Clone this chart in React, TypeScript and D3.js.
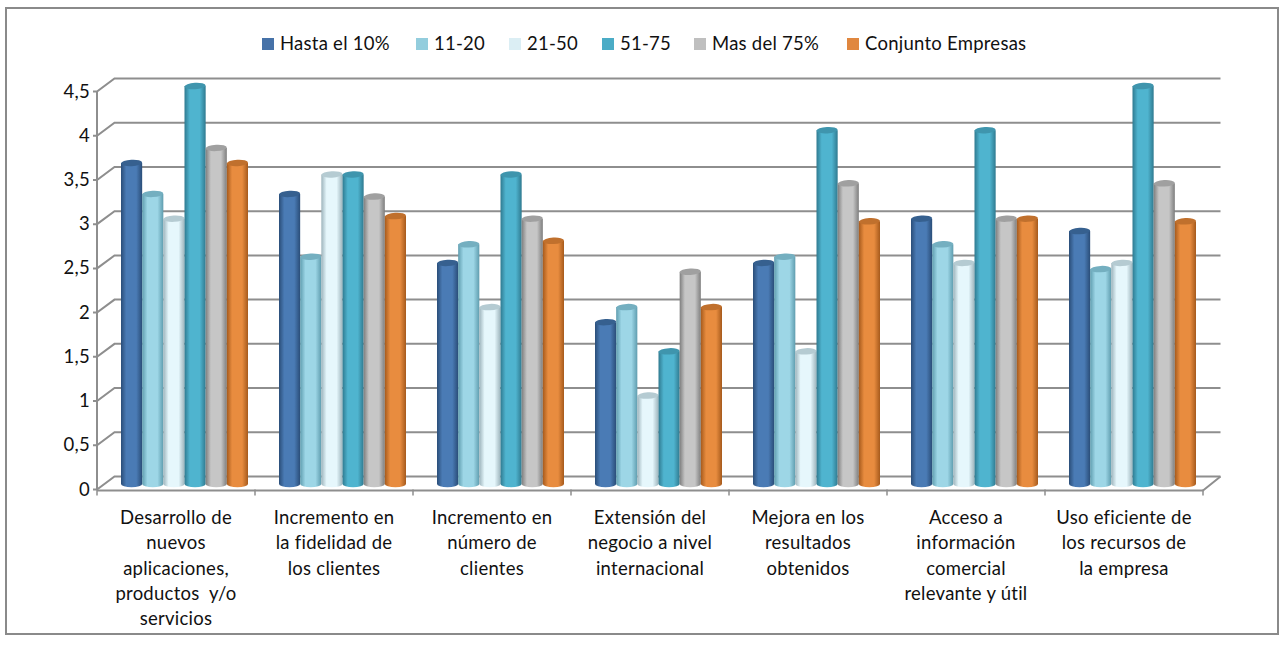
import React from "react";
import * as d3 from "d3";

const categories = [
  ["Desarrollo de", "nuevos", "aplicaciones,", "productos  y/o", "servicios"],
  ["Incremento en", "la fidelidad de", "los clientes"],
  ["Incremento en", "número de", "clientes"],
  ["Extensión del", "negocio a nivel", "internacional"],
  ["Mejora en los", "resultados", "obtenidos"],
  ["Acceso a", "información", "comercial", "relevante y útil"],
  ["Uso eficiente de", "los recursos de", "la empresa"],
];
const seriesNames = ["Hasta el 10%", "11-20", "21-50", "51-75", "Mas del 75%", "Conjunto Empresas"];
const hasta = [3.63, 3.28, 2.5, 1.83, 2.5, 3.0, 2.86];
const s1120 = [3.28, 2.57, 2.71, 2.0, 2.57, 2.71, 2.43];
const s2150 = [3.0, 3.5, 2.0, 1.0, 1.5, 2.5, 2.5];
const s5175 = [4.5, 3.5, 3.5, 1.5, 4.0, 4.0, 4.5];
const mas75 = [3.8, 3.25, 3.0, 2.4, 3.4, 3.0, 3.4];
const conjunto = [3.63, 3.03, 2.75, 2.0, 2.97, 3.0, 2.97];
const seriesValues = [hasta, s1120, s2150, s5175, mas75, conjunto];
const ticks = [0, 0.5, 1, 1.5, 2, 2.5, 3, 3.5, 4, 4.5];
const legendColors = ["#4672A8", "#93CDDD", "#DBEEF4", "#4BACC6", "#BFBFBF", "#E0873F"];
const edge = ["#2A4D78", "#5F9DAF", "#9DB4BC", "#2F7A90", "#7E7E7E", "#A65A1C"];
const mid = ["#4A7BB5", "#9DD6E6", "#E6F7FC", "#4FB4CF", "#C6C6C6", "#E88C3F"];
const cap = ["#36608F", "#74AFC0", "#B5CBD2", "#3F95AD", "#A0A0A0", "#C0702D"];
const legendX = [262, 416, 509, 602, 694, 847];

const FONT = "Lato, 'Open Sans', sans-serif";
const SIZE = 18.5;
const SPACING = 0.25;
const LEFT = 97, RIGHT = 1203, DX = 17.5, DY = -13;
const yFront = d3.scaleLinear().domain([0, 4.5]).range([489.5, 91.5]);
const yBar = d3.scaleLinear().domain([0, 4.5]).range([484, 86]);
const x0 = d3.scaleBand<number>().domain(categories.map((_, i) => i)).range([LEFT, RIGHT]);
const x1 = d3.scaleBand<number>().domain(seriesNames.map((_, i) => i)).range([24, 151]);
const GRID = "#8E8E8E";

export default function App() {
  const w = x1.bandwidth();
  return (
    <svg width={1280} height={653} style={{ position: "absolute", left: 0, top: 0, background: "#fff" }} fontFamily={FONT} letterSpacing={SPACING}>
      <defs>
        {seriesNames.map((_, i) => (
          <linearGradient key={i} id={`g${i}`} x1="0" x2="1" y1="0" y2="0">
            <stop offset="0" stopColor={edge[i]} />
            <stop offset="0.25" stopColor={mid[i]} />
            <stop offset="0.72" stopColor={mid[i]} />
            <stop offset="1" stopColor={edge[i]} />
          </linearGradient>
        ))}
      </defs>
      <rect x={6} y={8} width={1272} height={626} fill="#fff" stroke="#8A8A8A" strokeWidth={2} />
      {seriesNames.map((n, i) => (
        <g key={n}>
          <rect x={legendX[i]} y={38} width={12} height={12} fill={legendColors[i]} />
          <text x={legendX[i] + 18} y={50} fontSize={SIZE} fill="#111">{n}</text>
        </g>
      ))}
      {ticks.map((t) => (
        <path key={t} fill="none" stroke={GRID} strokeWidth={2}
          d={`M${LEFT - 4},${yFront(t)}H${LEFT}L${LEFT + DX},${yFront(t) + DY}H${RIGHT + DX}`} />
      ))}
      <path d={`M${LEFT},${yFront(4.5)}V${yFront(0)}`} stroke={GRID} strokeWidth={2} fill="none" />
      <path d={`M${LEFT},${yFront(0) + 1}H${RIGHT}L${RIGHT + DX},${yFront(0) + DY}`} stroke={GRID} strokeWidth={2} fill="none" />
      {d3.range(8).map((i) => {
        const x = LEFT + (i * (RIGHT - LEFT)) / 7;
        return <path key={i} d={`M${x},${yFront(0)}V${yFront(0) + 6}`} stroke={GRID} strokeWidth={1.5} />;
      })}
      {ticks.map((t) => (
        <text key={t} x={LEFT - 7} y={yFront(t) + 6} textAnchor="end" fontSize={SIZE} fill="#111">
          {String(t).replace(".", ",")}
        </text>
      ))}
      {seriesValues.map((vals, s) =>
        vals.map((v, c) => {
          const x = x0(c)! + x1(s)!;
          const yt = yBar(v), yb = yBar(0), rx = w / 2, ry = 3.2;
          return (
            <g key={`${s}-${c}`}>
              <path
                d={`M${x},${yt}V${yb}A${rx},${ry} 0 0 0 ${x + w},${yb}V${yt}Z`}
                fill={`url(#g${s})`}
              />
              <ellipse cx={x + rx} cy={yt} rx={rx} ry={ry} fill={cap[s]} transform={`rotate(-3 ${x + rx} ${yt})`} />
            </g>
          );
        })
      )}
      {categories.map((lines, c) => (
        <text key={c} textAnchor="middle" fontSize={SIZE} fill="#111" style={{ whiteSpace: "pre" }}>
          {lines.map((l, j) => (
            <tspan key={j} x={x0(c)! + x0.bandwidth() / 2} y={524 + j * 25.3}>{l}</tspan>
          ))}
        </text>
      ))}
    </svg>
  );
}
